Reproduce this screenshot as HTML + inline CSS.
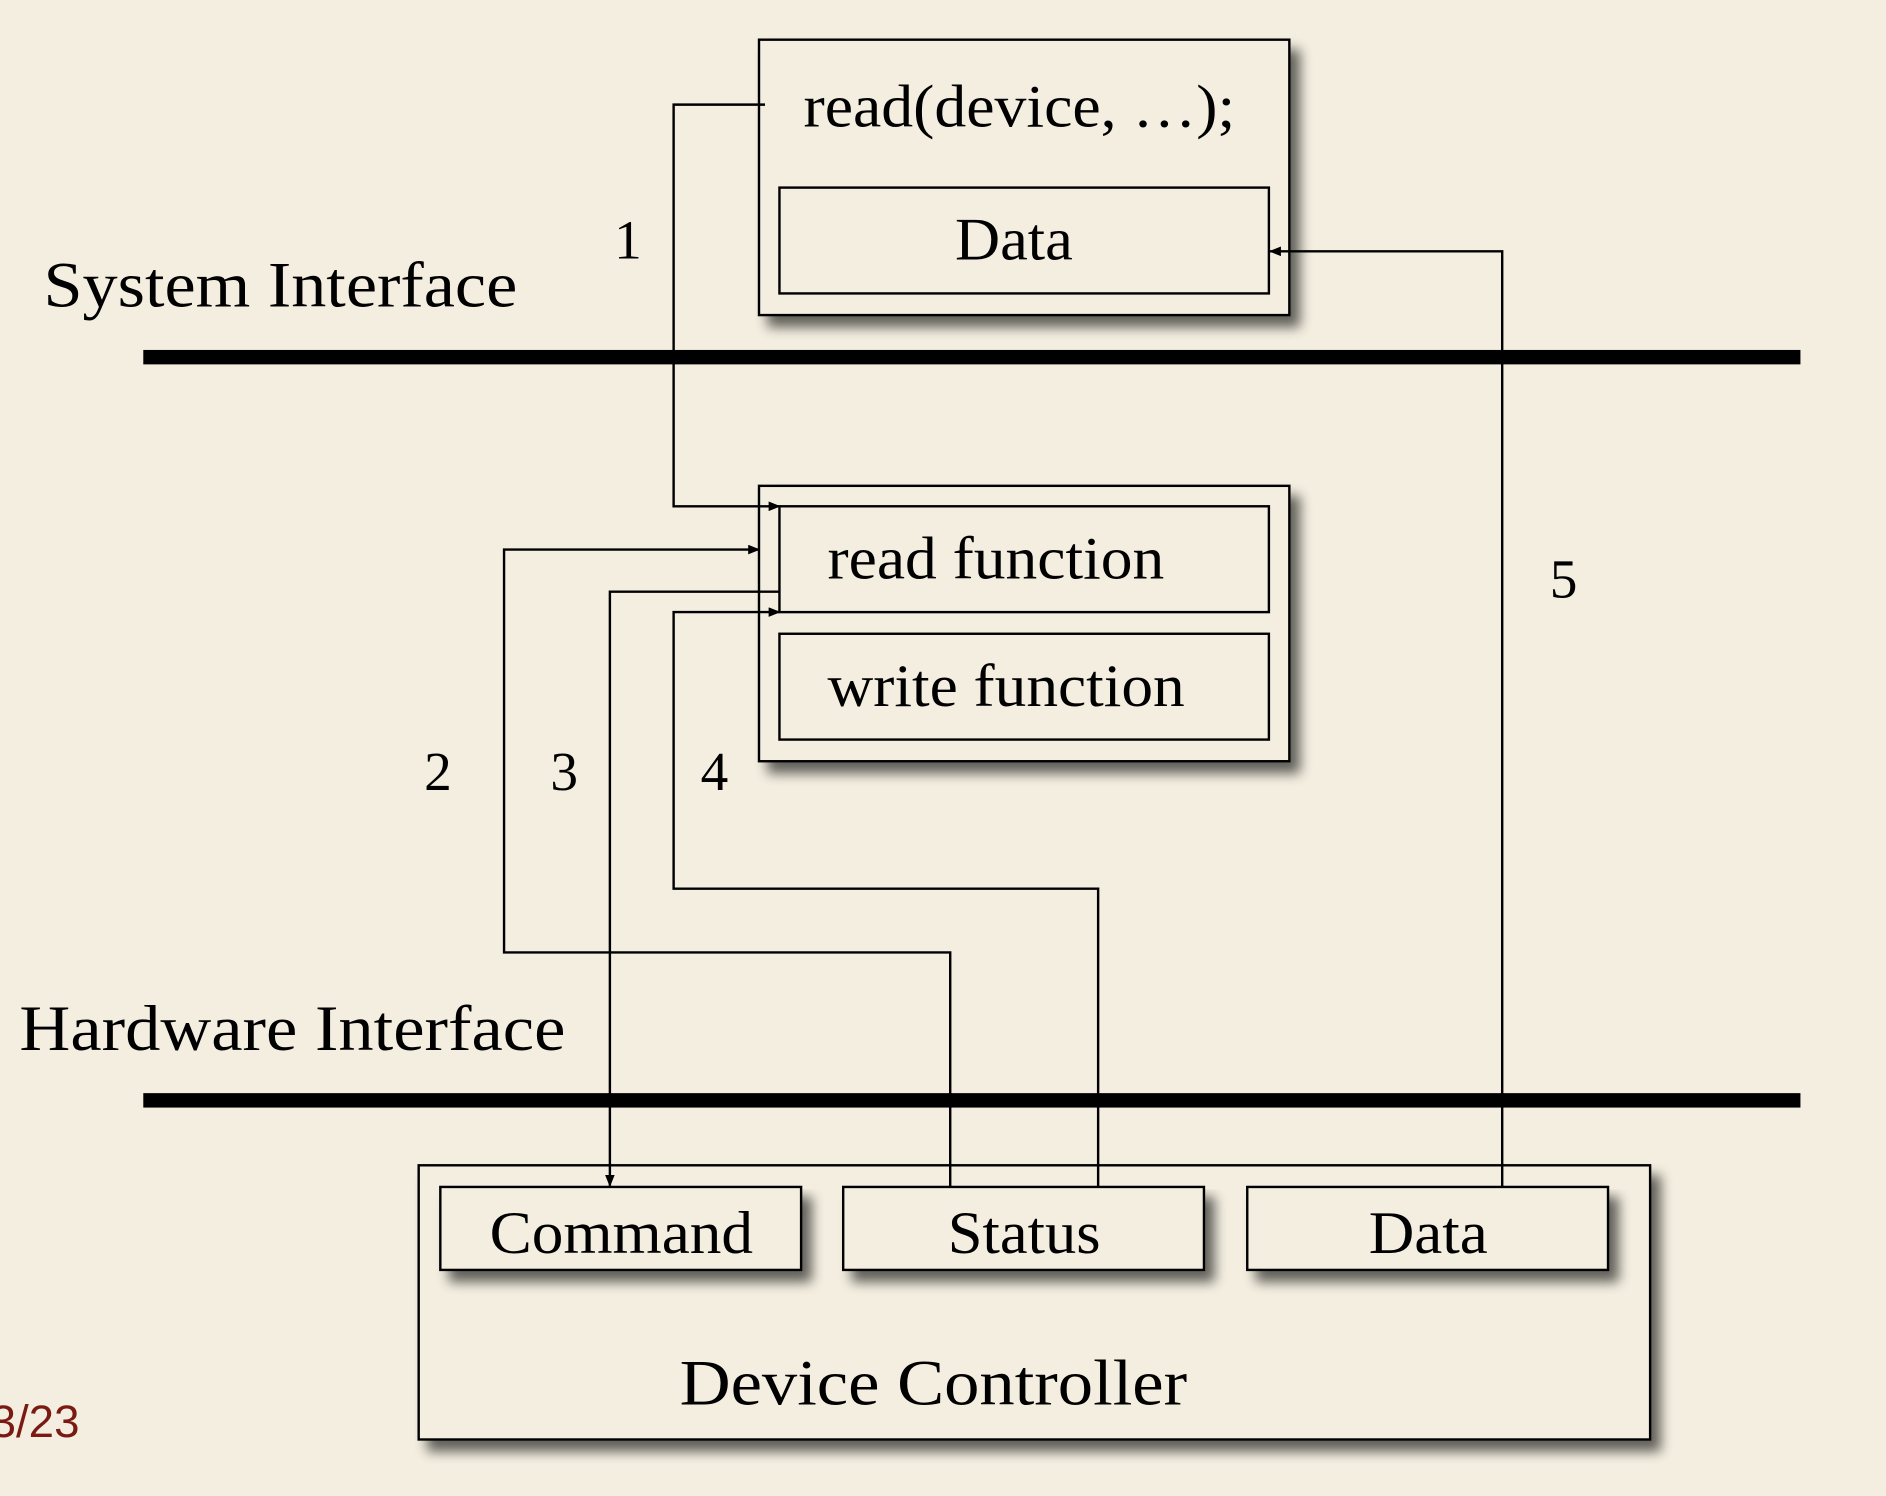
<!DOCTYPE html>
<html><head><meta charset="utf-8"><style>
html,body{margin:0;padding:0;background:#f3eee0;}
svg{display:block}
text{font-family:"Liberation Serif",serif;fill:#000}
</style></head><body>
<svg width="1886" height="1496" viewBox="0 0 1568 1244" xmlns="http://www.w3.org/2000/svg">
<defs>
<filter id="sh" x="-10%" y="-10%" width="130%" height="140%">
<feGaussianBlur in="SourceAlpha" stdDeviation="5"/>
<feOffset dx="8" dy="9" result="b"/>
<feComponentTransfer><feFuncA type="linear" slope="0.6"/></feComponentTransfer>
<feMerge><feMergeNode/><feMergeNode in="SourceGraphic"/></feMerge>
</filter>
<marker id="ar" markerWidth="10" markerHeight="8" refX="9" refY="4" orient="auto" markerUnits="userSpaceOnUse">
<path d="M0,0 L10,4 L0,8 z" fill="#000"/></marker>
</defs>
<rect width="1568" height="1244" fill="#f3eee0"/>
<g fill="#f3eee0" stroke="#000" stroke-width="2">
<rect x="631" y="33" width="441" height="229" filter="url(#sh)"/>
<rect x="648" y="156" width="407" height="88"/>
<rect x="631" y="404" width="441" height="229" filter="url(#sh)"/>
<rect x="648" y="421" width="407" height="88"/>
<rect x="648" y="527" width="407" height="88"/>
<rect x="348" y="969" width="1024" height="228" filter="url(#sh)"/>
<rect x="366" y="987" width="300" height="69" filter="url(#sh)"/>
<rect x="701" y="987" width="300" height="69" filter="url(#sh)"/>
<rect x="1037" y="987" width="300" height="69" filter="url(#sh)"/>
</g>
<rect x="119" y="291" width="1378" height="12" fill="#000"/>
<rect x="119" y="909" width="1378" height="12" fill="#000"/>
<g fill="none" stroke="#000" stroke-width="2">
<polyline points="636,87 560,87 560,421 648,421" marker-end="url(#ar)"/>
<polyline points="790,987 790,792 419,792 419,457 631,457" marker-end="url(#ar)"/>
<polyline points="648,492 507,492 507,986" marker-end="url(#ar)"/>
<polyline points="913,987 913,739 560,739 560,509 648,509" marker-end="url(#ar)"/>
<polyline points="1249,987 1249,209 1056,209" marker-end="url(#ar)"/>
</g>
<g lengthAdjust="spacingAndGlyphs">
<text x="668" y="105" font-size="50" textLength="359" lengthAdjust="spacingAndGlyphs">read(device, …);</text>
<text x="794" y="216" font-size="50" textLength="98" lengthAdjust="spacingAndGlyphs">Data</text>
<text x="36" y="255" font-size="54" textLength="394" lengthAdjust="spacingAndGlyphs">System Interface</text>
<text x="16" y="873" font-size="54" textLength="454" lengthAdjust="spacingAndGlyphs">Hardware Interface</text>
<text x="688" y="481" font-size="50" textLength="280" lengthAdjust="spacingAndGlyphs">read function</text>
<text x="688" y="587" font-size="50" textLength="297" lengthAdjust="spacingAndGlyphs">write function</text>
<text x="407" y="1042" font-size="50" textLength="219" lengthAdjust="spacingAndGlyphs">Command</text>
<text x="788" y="1042" font-size="50" textLength="127" lengthAdjust="spacingAndGlyphs">Status</text>
<text x="1138" y="1042" font-size="50" textLength="99" lengthAdjust="spacingAndGlyphs">Data</text>
<text x="565" y="1168" font-size="54" textLength="422" lengthAdjust="spacingAndGlyphs">Device Controller</text>
</g>
<text x="522" y="215" font-size="46" text-anchor="middle">1</text>
<text x="364" y="657" font-size="46" text-anchor="middle">2</text>
<text x="469" y="657" font-size="46" text-anchor="middle">3</text>
<text x="594" y="657" font-size="46" text-anchor="middle">4</text>
<text x="1300" y="497" font-size="46" text-anchor="middle">5</text>
<text x="-8" y="1195" font-size="38" style="font-family:'Liberation Sans',sans-serif;fill:#7a1a12">3/23</text>
</svg>
</body></html>
